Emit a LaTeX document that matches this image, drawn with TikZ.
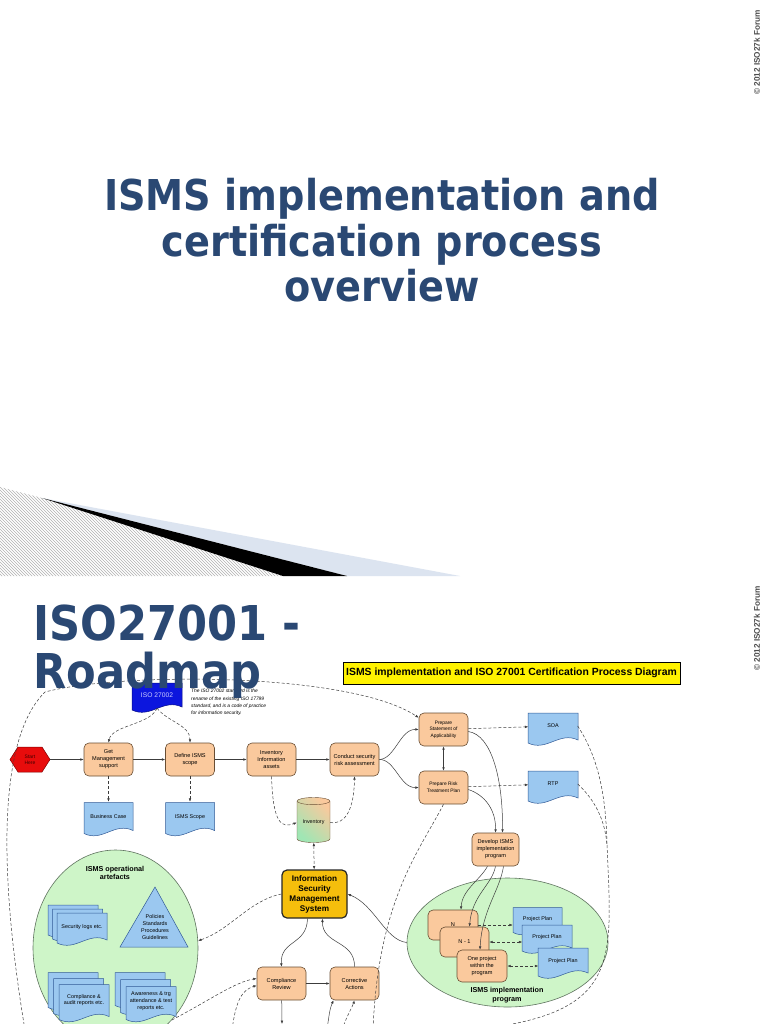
\documentclass[tikz,border=0pt]{standalone}
\usepackage{fontspec}
\setmainfont{Liberation Sans}
\newfontfamily\titlefont[FakeStretch=0.9]{DejaVu Sans}
\usepackage{tikz}
\usetikzlibrary{positioning,arrows.meta,shapes.geometric,patterns}

\definecolor{titleblue}{RGB}{42,72,115}
\definecolor{taskfill}{RGB}{250,201,157}
\definecolor{taskline}{RGB}{105,78,52}
\definecolor{docfill}{RGB}{155,200,240}
\definecolor{docline}{RGB}{50,90,150}
\definecolor{zonefill}{RGB}{206,245,200}
\definecolor{zoneline}{RGB}{95,115,95}
\definecolor{ismsgold}{RGB}{245,190,12}
\definecolor{isoblue}{RGB}{12,22,222}
\definecolor{startred}{RGB}{232,12,12}
\definecolor{invgreen}{RGB}{160,230,180}
\definecolor{wedgeblue}{RGB}{220,228,240}
\definecolor{linkgray}{RGB}{60,60,60}

% document with a wavy bottom: centre x, centre y, width, height
\newcommand{\wavydoc}[5][docshape]{%
  \filldraw[#1] ({#2-#4/2},{#3-#5/2}) -- ({#2+#4/2},{#3-#5/2})
    -- ({#2+#4/2},{#3+#5/2-5})
    .. controls ({#2+#4/8},{#3+#5/2-14}) and ({#2-#4/8},{#3+#5/2+7}) ..
    ({#2-#4/2},{#3+#5/2-2}) -- cycle;}

\tikzset{
  taskbox/.style={draw=taskline, fill=taskfill, rounded corners=5pt, line width=0.6pt, minimum width=49pt, minimum height=33pt, align=center, inner sep=1pt, font=\fontsize{5.6}{7}\selectfont},
  smallbox/.style={taskbox, font=\fontsize{4.9}{6.6}\selectfont},
  ismsbox/.style={draw=black!85, fill=ismsgold, rounded corners=5pt, line width=1.2pt, minimum width=65pt, minimum height=48pt, align=center, inner sep=1pt, font=\bfseries\fontsize{8.2}{10}\selectfont},
  docshape/.style={draw=docline, fill=docfill, line width=0.5pt},
  isoshape/.style={draw=isoblue!60!black, fill=isoblue, line width=0.5pt},
  startshape/.style={draw=red!50!black, fill=startred, line width=0.5pt},
  startlabel/.style={minimum width=40pt, minimum height=25pt, align=center, inner sep=0pt, text=red!25!black, font=\fontsize{5}{6}\selectfont},
  doclabel/.style={minimum width=49pt, minimum height=30pt, align=center, inner sep=1pt, font=\fontsize{5.4}{6.8}\selectfont},
  invdb/.style={cylinder, shape border rotate=90, aspect=0.3, draw=taskline, top color=taskfill, bottom color=invgreen, shading angle=-45, minimum width=33pt, minimum height=45pt, inner sep=1pt, font=\fontsize{5.3}{6}\selectfont},
  zone/.style={ellipse, draw=zoneline, fill=zonefill, line width=0.6pt},
  zonetitle/.style={align=center, inner sep=0pt, font=\bfseries\fontsize{7.2}{8.6}\selectfont},
  note/.style={align=left, anchor=north west, inner sep=0pt, font=\itshape\fontsize{4.9}{7.4}\selectfont},
  headbox/.style={draw=black, fill=yellow, line width=0.9pt, minimum width=337pt, minimum height=22pt, inner sep=1pt, font=\bfseries\fontsize{10.4}{12}\selectfont},
  flowarrow/.style={-{Latex[length=3.4pt,width=2.6pt]}, line width=0.5pt, draw=linkgray},
  dasharrow/.style={flowarrow, dash pattern=on 3pt off 2pt},
  dashline/.style={draw=linkgray, line width=0.5pt, dash pattern=on 3pt off 2pt},
  twoway/.style={{Latex[length=3.4pt,width=2.6pt]}-{Latex[length=3.4pt,width=2.6pt]}},
  slidetitle/.style={text=titleblue, inner sep=0pt, align=center, font=\titlefont\bfseries\fontsize{42.5}{45.5}\selectfont},
  copyr/.style={text=black!70, inner sep=0pt, font=\bfseries\fontsize{8.2}{9}\selectfont}
}

\begin{document}
\begin{tikzpicture}[x=1pt, y=-1pt, >=Latex]
\useasboundingbox (0,0) rectangle (768,1024);
\fill[white] (0,0) rectangle (768,1024);

% first slide
\node[slidetitle, anchor=north] (title) at (382,178.5) {ISMS implementation and\\certification process\\overview};
\fill[pattern=north west lines, pattern color=gray!60] (0,487) -- (42,498) -- (283,576) -- (0,576) -- cycle;
\fill[wedgeblue] (42,498) -- (460,576) -- (347,576) -- cycle;
\fill[black] (42,498) -- (347,576) -- (283,576) -- cycle;
\node[copyr, rotate=90, anchor=west] (copyA) at (757,95) {© 2012 ISO27k Forum};

% second slide
\node[copyr, rotate=90, anchor=west] (copyB) at (757,671) {© 2012 ISO27k Forum};
\node[zone, minimum width=165pt, minimum height=196pt] (opszone) at (115.5,948) {};
\node[zone, minimum width=201pt, minimum height=129pt] (implzone) at (507.5,942.5) {};
\node[headbox] (head) at (511.5,673) {ISMS implementation and ISO 27001 Certification Process Diagram};

\wavydoc[isoshape]{157}{697.5}{50}{29}
\node[doclabel, minimum height=26pt, text=white!80!blue, font=\fontsize{6.7}{8}\selectfont] (iso) at (157,695) {ISO 27002};
\node[note] (isonote) at (191,689) {The ISO 27002 standard is the\\rename of the existing ISO 17799\\standard, and is a code of practice\\for information security.};

\filldraw[startshape] (10,759.5) -- (18,747) -- (42,747) -- (50,759.5) -- (42,772) -- (18,772) -- cycle;
\node[startlabel] (start) at (30,759.5) {Start\\Here};

\node[taskbox] (getmgmt) at (108.5,759.5) {Get\\Management\\support};
\node[taskbox] (defscope) at (190,759.5) {Define ISMS\\scope};
\node[taskbox] (invassets) at (271.5,759.5) {Inventory\\Information\\assets};
\node[taskbox] (riskassess) at (354.5,759.5) {Conduct security\\risk assessment};
\node[smallbox] (prepsoa) at (443.5,729.5) {Prepare\\Statement of\\Applicability};
\node[smallbox] (preprtp) at (443.5,787.5) {Prepare Risk\\Treatment Plan};
\node[taskbox, minimum width=47pt] (develop) at (495.5,849.5) {Develop ISMS\\implementation\\program};
\node[taskbox] (review) at (281.5,983.5) {Compliance\\Review};
\node[taskbox] (corrective) at (354.5,983.5) {Corrective\\Actions};

\wavydoc{553}{729}{50}{32}
\node[doclabel] (soa) at (553,726) {SOA};
\wavydoc{553}{787}{50}{32}
\node[doclabel] (rtp) at (553,784) {RTP};
\wavydoc{108.5}{819}{49}{33}
\node[doclabel] (bcase) at (108.5,817) {Business Case};
\wavydoc{190}{819}{49}{33}
\node[doclabel] (scopedoc) at (190,817) {ISMS Scope};

\node[invdb] (inventory) at (313.5,822.5) {Inventory};
\node[ismsbox] (isms) at (314.5,894) {Information\\Security\\Management\\System};

% operational artefacts
\node[zonetitle] (opstitle) at (115,873) {ISMS operational\\artefacts};
\foreach \dx/\dy in {0/0,4.5/4,9/8} {\wavydoc{73+\dx}{921+\dy}{50}{32}}
\node[doclabel] (seclogs) at (82,927) {Security logs etc.};
\filldraw[docshape] (155,887) -- (188,947) -- (120,947) -- cycle;
\node[doclabel] (policies) at (155,927) {Policies\\Standards\\Procedures\\Guidelines};
\foreach \dx/\dy in {0/0,5.5/6,11/12} {\wavydoc{73+\dx}{991+\dy}{50}{37}}
\node[doclabel] (audits) at (84,1000) {Compliance \&\\audit reports etc.};
\foreach \dx/\dy in {0/0,5.5/7,11/14} {\wavydoc{140+\dx}{990+\dy}{50}{35}}
\node[doclabel] (awareness) at (151,1001) {Awareness \& trg\\attendance \& test\\reports etc.};

% implementation program
\node[taskbox, minimum width=50pt, minimum height=30pt] (projN) at (453,925) {N};
\node[taskbox, minimum width=49pt, minimum height=30pt] (projNone) at (464.5,942) {N - 1};
\node[taskbox, minimum width=50pt, minimum height=32pt] (projone) at (482,966) {One project\\within the\\program};
\wavydoc{537.5}{921}{49}{27}
\node[doclabel, minimum height=24pt] (planA) at (537.5,919) {Project Plan};
\wavydoc{547}{939}{50}{28}
\node[doclabel, minimum height=24pt] (planB) at (547,937) {Project Plan};
\wavydoc{563}{963}{50}{30}
\node[doclabel, minimum height=26pt] (planC) at (563,961) {Project Plan};
\node[zonetitle] (impltitle) at (507,995) {ISMS implementation\\program};

\coordinate (loopend) at (25,1030);
\coordinate (loopbend) at (45,692);
\coordinate (rtpdrop) at (373,1030);
\coordinate (rightmerge) at (607,845);
\coordinate (rightexit) at (488,1028);
\coordinate (revin) at (232,1030);
\coordinate (revout) at (282,1024);
\coordinate (corinA) at (327,1030);
\coordinate (corinB) at (342,1030);

\draw[flowarrow] (start) -- (getmgmt);
\draw[flowarrow] (getmgmt) -- (defscope);
\draw[flowarrow] (defscope) -- (invassets);
\draw[flowarrow] (invassets) -- (riskassess);
\draw[dasharrow] (getmgmt) -- (bcase);
\draw[dasharrow] (defscope) -- (scopedoc);
\draw[dasharrow] (iso.south) .. controls (150,725) and (112,725) .. (getmgmt.north);
\draw[dasharrow] (iso.south) .. controls (168,722) and (190,725) .. (defscope.north);
\draw[dasharrow] (invassets.south) .. controls (273,825) and (282,828) .. (inventory.west);
\draw[dasharrow] (inventory.east) .. controls (345,825) and (354,810) .. (riskassess.south);
\draw[dasharrow, twoway] (inventory) -- (isms);
\draw[flowarrow] (riskassess.east) .. controls (395,759) and (400,729) .. (prepsoa.west);
\draw[flowarrow] (riskassess.east) .. controls (395,759) and (400,788) .. (preprtp.west);
\draw[flowarrow, twoway] (prepsoa) -- (preprtp);
\draw[dasharrow] (prepsoa) -- (soa);
\draw[dasharrow] (preprtp) -- (rtp);
\draw[flowarrow] ([yshift=-2pt]prepsoa.east) .. controls (492,735) and (503,780) .. ([xshift=7pt]develop.north);
\draw[flowarrow] ([yshift=-2pt]preprtp.east) .. controls (485,795) and (496,810) .. (develop.north);
\draw[dashline] (preprtp.south) .. controls (420,850) and (378,900) .. (rtpdrop);
\draw[dashline] (soa.east) .. controls (600,760) and (606,800) .. (rightmerge);
\draw[dashline] (rtp.east) .. controls (595,800) and (605,820) .. (rightmerge);
\draw[dashline] (rightmerge) .. controls (612,960) and (620,1010) .. (rightexit);
\draw[dasharrow] (loopend) .. controls (0,880) and (-4,740) .. (loopbend) .. controls (120,672) and (350,672) .. ([yshift=-5pt]prepsoa.north west);
\draw[dasharrow] (isms.west) .. controls (250,900) and (230,930) .. (opszone.5);
\draw[dasharrow] (opszone.-52) .. controls (210,1000) and (235,982) .. ([yshift=5pt]review.west);
\draw[dasharrow] (revin) .. controls (236,1000) and (242,990) .. ([yshift=-2pt]review.west);
\draw[flowarrow] (review) -- (revout);
\draw[flowarrow] (corinA) .. controls (329,1015) and (330,1008) .. ([xshift=-21pt]corrective.south);
\draw[dasharrow] (corinB) .. controls (347,1015) and (352,1008) .. (corrective.south);
\draw[flowarrow] ([xshift=-7pt]isms.south) .. controls (307,945) and (280,940) .. (review.north);
\draw[flowarrow] (corrective.north) .. controls (355,940) and (322,945) .. ([xshift=8pt]isms.south);
\draw[flowarrow] (review) -- (corrective);
\draw[flowarrow] (implzone.west) .. controls (385,940) and (375,905) .. (isms.east);
\draw[flowarrow] ([xshift=-8pt]develop.south) .. controls (480,880) and (462,890) .. ([xshift=8pt]projN.north);
\draw[flowarrow] (develop.south) .. controls (492,885) and (472,895) .. ([xshift=5pt]projNone.north);
\draw[flowarrow] ([xshift=8pt]develop.south) .. controls (500,890) and (482,910) .. ([xshift=-2pt]projone.north);
\draw[dasharrow] (projN.east) -- (projN.east -| planA.west);
\draw[dasharrow, twoway] (projNone.east) -- (projNone.east -| planB.west);
\draw[dasharrow, twoway] (projone.east) -- (projone.east -| planC.west);

\node[slidetitle, align=left, anchor=north west, font=\titlefont\bfseries\fontsize{48}{48}\selectfont] (roadmap) at (33,604.4) {ISO27001 -\\Roadmap};
\end{tikzpicture}
\end{document}
